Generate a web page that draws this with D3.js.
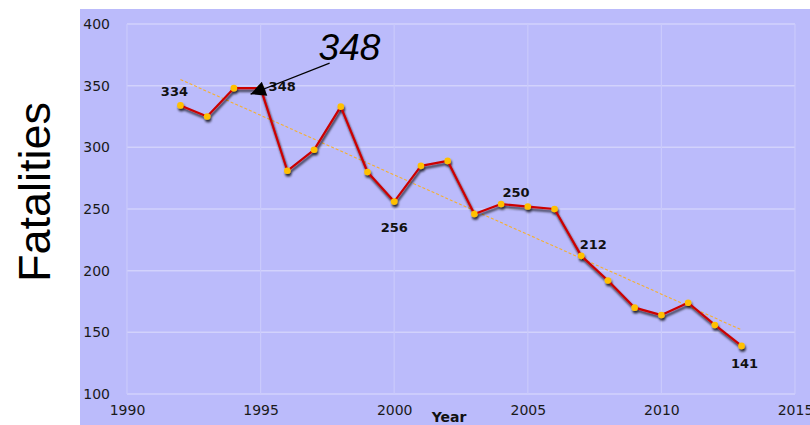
<!DOCTYPE html>
<html>
<head>
<meta charset="utf-8">
<script src="https://cdn.jsdelivr.net/npm/d3@7"></script>
<style>
  body { margin: 0; background: #fff; }
  svg { display: block; }
  .tick text { font-family: "DejaVu Sans", Verdana, sans-serif; fill: #1a1a1a; }
  .ptlabel { font-family: "DejaVu Sans", Verdana, sans-serif; font-weight: bold; font-size: 13px; fill: #111; }
</style>
</head>
<body>
<div id="chart"></div>
<script>
(function() {

// data
var years = [1992, 1993, 1994, 1995, 1996, 1997, 1998, 1999, 2000, 2001, 2002,
             2003, 2004, 2005, 2006, 2007, 2008, 2009, 2010, 2011, 2012, 2013];
var fatalities = [334, 325, 348, 348, 281, 298, 333, 280, 256, 285, 289,
                  246, 254, 252, 250, 212, 192, 170, 164, 174, 156, 139];
var trendYears = [1992, 2013];
var trendValues = [355, 152];
var xTicks = [1990, 1995, 2000, 2005, 2010, 2015];
var yTicks = [100, 150, 200, 250, 300, 350, 400];
var labelYears = [1992, 1995, 2000, 2004, 2007, 2013];
var labelTexts = ["334", "348", "256", "250", "212", "141"];

var W = 810, H = 425;
var margin = {top: 24, right: 15, bottom: 31, left: 127},
    width = W - margin.left - margin.right,
    height = H - margin.top - margin.bottom;

var x = d3.scaleLinear().domain([1990, 2015]).range([0, width]);
var y = d3.scaleLinear().domain([100, 400]).range([height, 0]);

var svg = d3.select("#chart").append("svg")
    .attr("width", W)
    .attr("height", H);

var defs = svg.append("defs");
var shadow = defs.append("filter").attr("id", "shadow")
    .attr("x", "-10%").attr("y", "-10%").attr("width", "120%").attr("height", "130%");
shadow.append("feDropShadow")
    .attr("dx", 1).attr("dy", 2.5).attr("stdDeviation", 1.3)
    .attr("flood-color", "#000").attr("flood-opacity", 0.8);

defs.append("marker")
    .attr("id", "arrow")
    .attr("viewBox", "0 0 10 10")
    .attr("refX", 10).attr("refY", 5)
    .attr("markerWidth", 17).attr("markerHeight", 15)
    .attr("markerUnits", "userSpaceOnUse")
    .attr("orient", "auto")
  .append("path")
    .attr("d", "M0,0 L10,5 L0,10 Z")
    .attr("fill", "#000");

// panel background
svg.append("rect")
    .attr("x", 80).attr("y", 9)
    .attr("width", W - 80).attr("height", H - 9)
    .attr("fill", "#bbbbfb");

var g = svg.append("g")
    .attr("transform", "translate(" + margin.left + "," + margin.top + ")");

// grid
g.append("g").selectAll("line").data(yTicks).enter().append("line")
    .attr("x1", 0).attr("x2", width)
    .attr("y1", function(d) { return y(d); })
    .attr("y2", function(d) { return y(d); })
    .attr("stroke", "#d2d2fc").attr("stroke-width", 1.5);
g.append("g").selectAll("line").data(xTicks).enter().append("line")
    .attr("y1", 0).attr("y2", height)
    .attr("x1", function(d) { return x(d); })
    .attr("x2", function(d) { return x(d); })
    .attr("stroke", "#cacafc").attr("stroke-width", 1.2);

// axes
var yAxis = g.append("g")
    .call(d3.axisLeft(y).tickValues(yTicks).tickSize(0).tickPadding(17));
yAxis.select(".domain").remove();
yAxis.selectAll("text").style("font-size", "14px");

var xAxis = g.append("g")
    .attr("transform", "translate(0," + height + ")")
    .call(d3.axisBottom(x).tickValues(xTicks).tickFormat(d3.format("d")).tickSize(0).tickPadding(11));
xAxis.select(".domain").remove();
xAxis.selectAll("text").style("font-size", "14px");

svg.append("text")
    .attr("x", 449).attr("y", 422)
    .attr("text-anchor", "middle")
    .style("font-family", "DejaVu Sans, Verdana, sans-serif")
    .style("font-weight", "bold")
    .style("font-size", "14px")
    .attr("fill", "#111")
    .text("Year");

svg.append("text")
    .attr("transform", "translate(50,192) rotate(-90)")
    .attr("text-anchor", "middle")
    .style("font-family", "Liberation Sans, Arial, sans-serif")
    .style("font-size", "45px")
    .attr("fill", "#000")
    .text("Fatalities");

// trend line
var pts = years.map(function(d, i) { return [d, fatalities[i]]; });
var trend = trendYears.map(function(d, i) { return [d, trendValues[i]]; });

var line = d3.line()
    .x(function(d) { return x(d[0]); })
    .y(function(d) { return y(d[1]); });

g.append("path")
    .datum(trend)
    .attr("d", line)
    .attr("fill", "none")
    .attr("stroke", "#f5b030")
    .attr("stroke-width", 1.1)
    .attr("stroke-dasharray", "3,2");

// series with shadow
var series = g.append("g").attr("filter", "url(#shadow)");
series.append("path")
    .datum(pts)
    .attr("d", line)
    .attr("fill", "none")
    .attr("stroke", "#cc0000")
    .attr("stroke-width", 2.2)
    .attr("stroke-linejoin", "round");

series.selectAll("circle")
    .data(pts)
  .enter().append("circle")
    .attr("cx", function(d) { return x(d[0]); })
    .attr("cy", function(d) { return y(d[1]); })
    .attr("r", 3.3)
    .attr("fill", "#ffc000");

// point labels
var labelOffsets = {
  1992: {dx: -6, dy: -9, anchor: "middle"},
  1995: {dx: 8, dy: 3, anchor: "start"},
  2000: {dx: 0, dy: 30, anchor: "middle"},
  2004: {dx: 15, dy: -7, anchor: "middle"},
  2007: {dx: 12, dy: -7, anchor: "middle"},
  2013: {dx: 3, dy: 22, anchor: "middle"}
};
labelYears.forEach(function(yr, i) {
  var v = fatalities[years.indexOf(yr)];
  var o = labelOffsets[yr];
  g.append("text")
    .attr("class", "ptlabel")
    .attr("x", x(yr) + o.dx)
    .attr("y", y(v) + o.dy)
    .attr("text-anchor", o.anchor)
    .text(labelTexts[i]);
});

// callout annotation for 1995
var ax = x(1995), ay = y(348);
g.append("line")
    .attr("x1", ax + 69)
    .attr("y1", ay - 25)
    .attr("x2", ax - 10)
    .attr("y2", ay + 6)
    .attr("stroke", "#000")
    .attr("stroke-width", 1.2)
    .attr("marker-end", "url(#arrow)");

g.append("text")
    .attr("x", ax + 58)
    .attr("y", ay - 28)
    .style("font-family", "Liberation Sans, Arial, sans-serif")
    .style("font-style", "italic")
    .style("font-size", "37px")
    .attr("fill", "#000")
    .text("348");

})();
</script>
</body>
</html>
